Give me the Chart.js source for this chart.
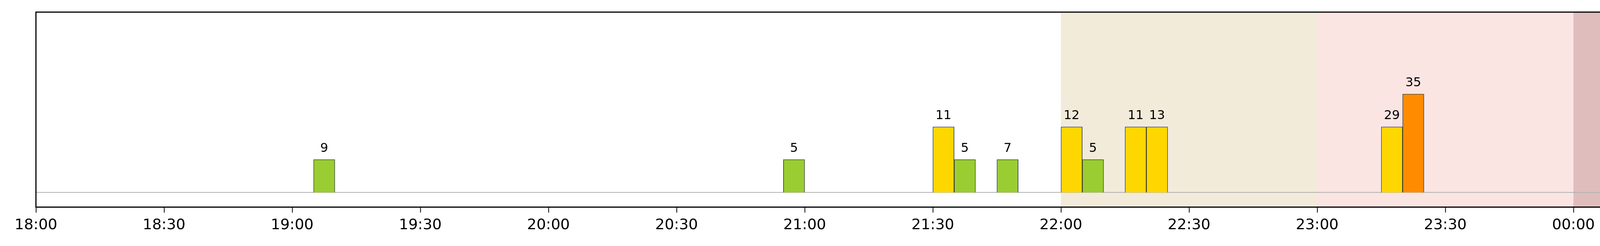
<!DOCTYPE html>
<html>
<head>
<meta charset="utf-8">
<script src="https://cdn.jsdelivr.net/npm/chart.js@4"></script>
<style>
  body { margin: 0; background: #fff; }
  #wrap { width: 5370px; height: 630px; }
</style>
</head>
<body>
<div id="wrap"><canvas id="chart"></canvas></div>
<script>
// minutes after 18:00 where each 5-minute bar starts
var barStarts = [65, 175, 210, 215, 225, 240, 245, 255, 260, 315, 320];
var barValues = [9, 5, 11, 5, 7, 12, 5, 11, 13, 29, 35];
// severity level sets the bar height: 1 green, 2 yellow, 3 orange
var barLevels = [1, 1, 2, 1, 1, 2, 1, 2, 2, 2, 3];
var levelColors = ['', '#9ACD32', '#FFD700', '#FF8C00'];
var tickLabels = ['18:00', '18:30', '19:00', '19:30', '20:00', '20:30', '21:00', '21:30',
                  '22:00', '22:30', '23:00', '23:30', '00:00', '00:30', '01:00', '01:30', '02:00'];
var bands = [
    { from: 240, to: 300, color: '#F2EBDA' },
    { from: 300, to: 360, color: '#FAE5E3' },
    { from: 360, to: 480, color: '#E0BDBD' }
];

var points = barStarts.map(function(s, i) { return { x: s + 2.5, y: barLevels[i] }; });

var extras = {
    id: 'extras',
    beforeDatasetsDraw: function(chart) {
        var ctx = chart.ctx, xs = chart.scales.x, ys = chart.scales.y, a = chart.chartArea;
        ctx.save();
        bands.forEach(function(b) {
            var x1 = xs.getPixelForValue(b.from), x2 = xs.getPixelForValue(b.to);
            ctx.fillStyle = b.color;
            ctx.fillRect(x1, a.top, x2 - x1, a.bottom - a.top);
        });
        var y0 = ys.getPixelForValue(0);
        ctx.strokeStyle = '#b0b0b0';
        ctx.lineWidth = 2;
        ctx.beginPath();
        ctx.moveTo(a.left, y0);
        ctx.lineTo(a.right, y0);
        ctx.stroke();
        ctx.restore();
    },
    afterDatasetsDraw: function(chart) {
        var ctx = chart.ctx, a = chart.chartArea;
        var meta = chart.getDatasetMeta(0);
        ctx.save();
        ctx.fillStyle = '#000';
        ctx.font = '32px "DejaVu Sans"';
        ctx.textAlign = 'center';
        ctx.textBaseline = 'bottom';
        meta.data.forEach(function(bar, i) {
            ctx.fillText(String(barValues[i]), bar.x, bar.y - 12);
        });
        ctx.strokeStyle = '#000';
        ctx.lineWidth = 3;
        ctx.strokeRect(a.left, a.top, a.right - a.left, a.bottom - a.top);
        ctx.restore();
    }
};

new Chart(document.getElementById('chart'), {
    type: 'bar',
    data: {
        datasets: [{
            data: points,
            backgroundColor: barLevels.map(function(l) { return levelColors[l]; }),
            borderColor: '#333',
            borderWidth: 1.5,
            barPercentage: 1,
            categoryPercentage: 1,
            grouped: false
        }]
    },
    plugins: [extras],
    options: {
        responsive: true,
        maintainAspectRatio: false,
        animation: false,
        layout: { padding: { left: 92, right: 30, top: 31, bottom: 20 } },
        plugins: { legend: { display: false }, tooltip: { enabled: false } },
        scales: {
            x: {
                type: 'linear',
                offset: false,
                bounds: 'ticks',
                min: 0,
                max: 480,
                grid: { drawOnChartArea: false, offset: false, color: '#000', tickLength: 14, tickWidth: 2 },
                border: { display: false },
                ticks: {
                    stepSize: 30,
                    maxRotation: 0,
                    autoSkip: false,
                    color: '#000',
                    padding: 10,
                    font: { family: 'DejaVu Sans', size: 38 },
                    callback: function(v) { return v % 30 === 0 && v < 480 ? tickLabels[v / 30] : ''; }
                }
            },
            y: {
                display: false,
                min: -0.45,
                max: 5.5
            }
        }
    }
});
</script>
</body>
</html>
